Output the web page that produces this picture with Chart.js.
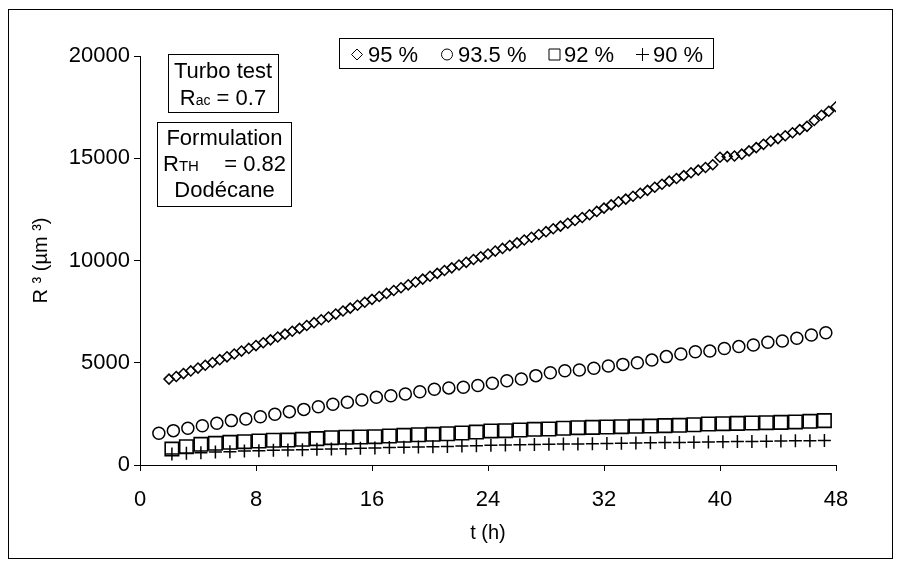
<!DOCTYPE html>
<html>
<head>
<meta charset="utf-8">
<script src="https://cdn.jsdelivr.net/npm/chart.js@4/dist/chart.umd.min.js"></script>
<style>
html,body{margin:0;padding:0;background:#fff;}
#wrap{width:901px;height:567px;position:relative;}
</style>
</head>
<body>
<div id="wrap"><canvas id="c" width="901" height="567"></canvas></div>
<script>
// ---- data ----
const seriesLabels = ['95 %', '93.5 %', '92 %', '90 %'];
const xTickValues = [0, 8, 16, 24, 32, 40, 48];
const yTickValues = [0, 5000, 10000, 15000, 20000];

const hours95 = [2,2.5,3,3.5,4,4.5,5,5.5,6,6.5,7,7.5,8,8.5,9,9.5,10,10.5,11,11.5,12,12.5,13,13.5,14,14.5,15,15.5,16,16.5,17,17.5,18,18.5,19,19.5,20,20.5,21,21.5,22,22.5,23,23.5,24,24.5,25,25.5,26,26.5,27,27.5,28,28.5,29,29.5,30,30.5,31,31.5,32,32.5,33,33.5,34,34.5,35,35.5,36,36.5,37,37.5,38,38.5,39,39.5,40,40.5,41,41.5,42,42.5,43,43.5,44,44.5,45,45.5,46,46.5,47,47.5,48];
const values95 = [4200,4330,4470,4600,4740,4880,5010,5150,5290,5430,5570,5700,5840,5980,6120,6260,6400,6540,6680,6820,6960,7100,7240,7380,7530,7670,7810,7960,8100,8240,8390,8530,8670,8810,8950,9090,9230,9370,9510,9640,9780,9910,10050,10180,10320,10460,10590,10730,10860,11000,11140,11270,11410,11550,11680,11820,11960,12100,12240,12400,12560,12720,12870,13000,13140,13290,13430,13580,13730,13880,14010,14150,14290,14420,14550,14680,15050,15080,15110,15200,15360,15520,15680,15840,15960,16100,16250,16400,16560,16850,17100,17300,17520];

const hours935 = [1.3,2.3,3.3,4.3,5.3,6.3,7.3,8.3,9.3,10.3,11.3,12.3,13.3,14.3,15.3,16.3,17.3,18.3,19.3,20.3,21.3,22.3,23.3,24.3,25.3,26.3,27.3,28.3,29.3,30.3,31.3,32.3,33.3,34.3,35.3,36.3,37.3,38.3,39.3,40.3,41.3,42.3,43.3,44.3,45.3,46.3,47.3];
const values935 = [1550,1680,1795,1920,2040,2170,2250,2360,2480,2610,2720,2850,2970,3070,3180,3310,3390,3470,3580,3700,3770,3800,3890,3995,4120,4205,4370,4510,4610,4645,4730,4840,4920,5000,5130,5300,5430,5540,5570,5700,5790,5870,6000,6060,6200,6360,6470];

const hours92 = [2.2,3.2,4.2,5.2,6.2,7.2,8.2,9.2,10.2,11.2,12.2,13.2,14.2,15.2,16.2,17.2,18.2,19.2,20.2,21.2,22.2,23.2,24.2,25.2,26.2,27.2,28.2,29.2,30.2,31.2,32.2,33.2,34.2,35.2,36.2,37.2,38.2,39.2,40.2,41.2,42.2,43.2,44.2,45.2,46.2,47.2];
const values92 = [780,895,1010,1060,1110,1140,1175,1210,1220,1255,1290,1335,1355,1370,1385,1420,1450,1480,1500,1530,1565,1610,1665,1680,1710,1745,1760,1795,1825,1840,1860,1875,1890,1905,1925,1940,1970,2005,2020,2035,2055,2070,2085,2105,2135,2170];

const hours90 = [2.2,3.2,4.2,5.2,6.2,7.2,8.2,9.2,10.2,11.2,12.2,13.2,14.2,15.2,16.2,17.2,18.2,19.2,20.2,21.2,22.2,23.2,24.2,25.2,26.2,27.2,28.2,29.2,30.2,31.2,32.2,33.2,34.2,35.2,36.2,37.2,38.2,39.2,40.2,41.2,42.2,43.2,44.2,45.2,46.2,47.2];
const values90 = [540,570,600,630,650,680,700,720,735,750,765,780,800,815,830,850,865,880,895,910,930,945,960,975,990,1000,1010,1025,1030,1045,1055,1065,1075,1090,1095,1105,1115,1125,1140,1145,1155,1160,1170,1180,1190,1195];

// ---- chart ----
const FONT = '"Liberation Sans", Arial, Helvetica, sans-serif';
const pts = (xs, ys) => xs.map((x, i) => ({x: x, y: ys[i]}));

function marker(ctx, style, x, y, r) {
  ctx.beginPath();
  if (style === 'diamond') {
    ctx.moveTo(x - r, y); ctx.lineTo(x, y - r); ctx.lineTo(x + r, y); ctx.lineTo(x, y + r); ctx.closePath();
  } else if (style === 'circle') {
    ctx.arc(x, y, r, 0, Math.PI * 2);
  } else if (style === 'square') {
    ctx.rect(x - r, y - r, 2 * r, 2 * r);
  } else {
    ctx.moveTo(x - r, y); ctx.lineTo(x + r, y); ctx.moveTo(x, y - r); ctx.lineTo(x, y + r);
  }
  ctx.stroke();
}

const decor = {
  id: 'decor',
  afterDraw(chart) {
    const ctx = chart.ctx;
    ctx.save();
    ctx.strokeStyle = '#000';
    ctx.fillStyle = '#000';
    ctx.lineWidth = 1;
    // outer frame
    ctx.strokeRect(8.5, 9.5, 884, 549);

    // legend box
    ctx.fillStyle = '#fff';
    ctx.fillRect(339.5, 38.5, 374, 30);
    ctx.strokeRect(339.5, 38.5, 374, 30);
    ctx.fillStyle = '#000';
    ctx.font = '22px ' + FONT;
    ctx.textBaseline = 'alphabetic';
    ctx.textAlign = 'left';
    const legendItems = [
      {style: 'diamond', mx: 357, r: 5.5, tx: 368},
      {style: 'circle', mx: 447, r: 5.5, tx: 458},
      {style: 'square', mx: 554.5, r: 5.5, tx: 564},
      {style: 'plus', mx: 642.5, r: 6.5, tx: 653}
    ];
    ctx.lineWidth = 1;
    legendItems.forEach((it, i) => {
      marker(ctx, it.style, it.mx, 54.5, it.r);
      ctx.fillText(seriesLabels[i], it.tx, 62);
    });

    // annotation box 1
    ctx.lineWidth = 1;
    ctx.strokeRect(168.5, 54.5, 110, 58);
    ctx.textAlign = 'center';
    ctx.font = '22px ' + FONT;
    ctx.fillText('Turbo test', 223, 78);
    // R_ac = 0.7
    ctx.textAlign = 'left';
    const big = '22px ' + FONT, small = '14px ' + FONT;
    ctx.font = big; const wR = ctx.measureText('R').width;
    ctx.font = small; const wac = ctx.measureText('ac').width;
    ctx.font = big; const weq = ctx.measureText(' = 0.7').width;
    let x0 = 223 - (wR + wac + weq) / 2;
    ctx.font = big; ctx.fillText('R', x0, 105);
    ctx.font = small; ctx.fillText('ac', x0 + wR, 105);
    ctx.font = big; ctx.fillText(' = 0.7', x0 + wR + wac, 105);

    // annotation box 2
    ctx.strokeRect(157.5, 122.5, 134, 84);
    ctx.textAlign = 'center';
    ctx.font = big;
    ctx.fillText('Formulation', 224.5, 145);
    ctx.fillText('Dodécane', 224.5, 197);
    ctx.textAlign = 'left';
    ctx.fillText('R', 163, 171);
    ctx.font = '15px ' + FONT;
    ctx.fillText('TH', 163 + wR, 171);
    ctx.font = big;
    ctx.textAlign = 'right';
    ctx.fillText('= 0.82', 286, 171);
    ctx.restore();
  }
};

const axisFont = {size: 22, family: FONT};

new Chart(document.getElementById('c'), {
  type: 'scatter',
  data: {
    datasets: [
      {label: seriesLabels[0], data: pts(hours95, values95), pointStyle: 'rectRot', pointRadius: 5,
       borderColor: '#000', backgroundColor: 'rgba(0,0,0,0)', borderWidth: 1.5, showLine: false},
      {label: seriesLabels[1], data: pts(hours935, values935), pointStyle: 'circle', pointRadius: 6,
       borderColor: '#000', backgroundColor: 'rgba(0,0,0,0)', borderWidth: 1.5, showLine: false},
      {label: seriesLabels[2], data: pts(hours92, values92), pointStyle: 'rect', pointRadius: 9.5,
       borderColor: '#000', backgroundColor: 'rgba(0,0,0,0)', borderWidth: 1.6, showLine: false},
      {label: seriesLabels[3], data: pts(hours90, values90), pointStyle: 'cross', pointRadius: 6.5,
       borderColor: '#000', backgroundColor: 'rgba(0,0,0,0)', borderWidth: 1.5, showLine: false}
    ]
  },
  options: {
    responsive: false,
    animation: false,
    devicePixelRatio: 1,
    layout: {padding: {left: 0, right: 65, top: 56, bottom: 0}},
    plugins: {legend: {display: false}, tooltip: {enabled: false}},
    scales: {
      x: {
        type: 'linear', min: 0, max: 48,
        afterBuildTicks: s => { s.ticks = xTickValues.map(v => ({value: v})); },
        afterFit: s => { s.height = 102; },
        grid: {display: true, drawOnChartArea: false, drawTicks: true, tickLength: 6, color: '#000', lineWidth: 1},
        border: {display: true, color: '#000', width: 1},
        ticks: {color: '#000', font: axisFont, padding: 16, maxRotation: 0, autoSkip: false},
        title: {display: true, text: 't (h)', color: '#000', font: {size: 20, family: FONT}, padding: {top: 0, bottom: 22}}
      },
      y: {
        type: 'linear', min: 0, max: 20000,
        afterBuildTicks: s => { s.ticks = yTickValues.map(v => ({value: v})); },
        afterFit: s => { s.width = 140; },
        grid: {display: true, drawOnChartArea: false, drawTicks: true, tickLength: 6, color: '#000', lineWidth: 1},
        border: {display: true, color: '#000', width: 1},
        ticks: {color: '#000', font: axisFont, padding: 4, autoSkip: false, callback: v => String(v)},
        title: {display: true, text: 'R ³ (µm ³)', color: '#000', font: {size: 20, family: FONT}, padding: {top: 29, bottom: 0}}
      }
    }
  },
  plugins: [decor]
});
</script>
</body>
</html>
